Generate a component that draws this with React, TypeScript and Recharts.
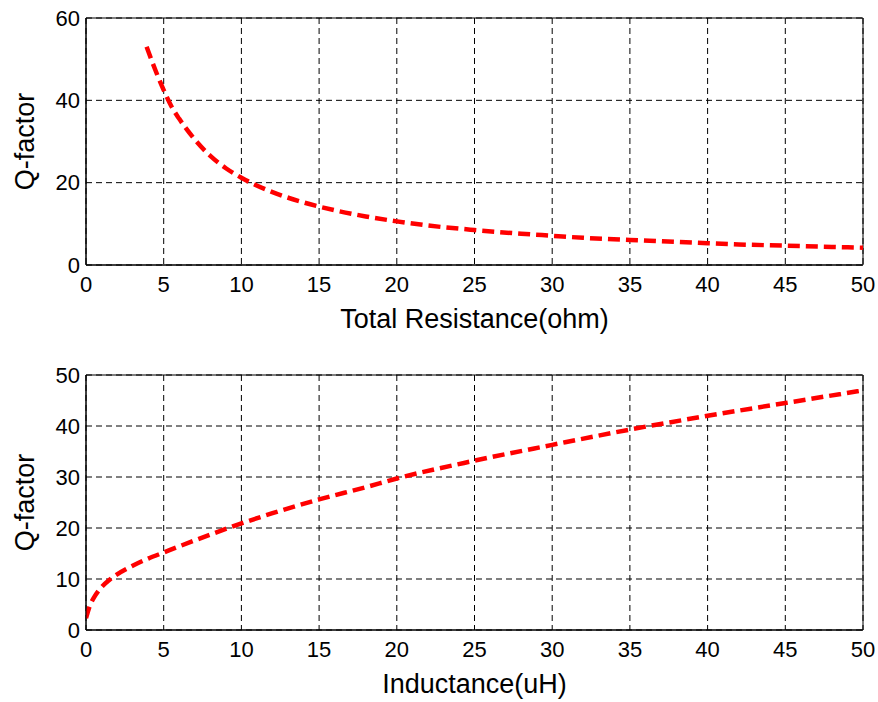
import React from "react";
import {
  LineChart,
  Line,
  XAxis,
  YAxis,
  CartesianGrid,
  ReferenceArea,
} from "recharts";

// top panel: Q-factor vs total resistance
const resistance = [3.9, 4.5, 5, 5.5, 6, 7, 8, 9, 10, 12, 14, 16, 18, 20, 22, 25, 28, 30, 32, 35, 38, 40, 42, 45, 48, 50];
const qVsResistance = [53, 47, 42.5, 38.5, 35.5, 30.5, 26.5, 23.5, 21.2, 17.7, 15.2, 13.3, 11.8, 10.6, 9.6, 8.5, 7.6, 7.1, 6.6, 6.1, 5.6, 5.3, 5.0, 4.7, 4.4, 4.2];

// bottom panel: Q-factor vs inductance
const inductance = [0, 0.25, 0.5, 1, 1.5, 2, 3, 4, 5, 6, 8, 10, 12, 15, 18, 20, 25, 30, 35, 40, 45, 50];
const qVsInductance = [2.3, 4.8, 6.3, 8.4, 9.8, 10.9, 12.6, 14.0, 15.2, 16.4, 18.7, 20.9, 22.9, 25.6, 28.0, 29.7, 33.2, 36.3, 39.3, 42.0, 44.5, 47.0];

const xTicks = [0, 5, 10, 15, 20, 25, 30, 35, 40, 45, 50];
const yTicksTop = [0, 20, 40, 60];
const yTicksBottom = [0, 10, 20, 30, 40, 50];

const FONT = "'Liberation Sans', Arial, Helvetica, sans-serif";
const tickStyle = { fill: "#000", fontSize: 22, fontFamily: FONT };
const titleStyle = { fill: "#000", fontSize: 27, fontFamily: FONT };

function Panel({
  data,
  xTitle,
  yTicks,
  top,
  height,
  marginTop,
  xAxisHeight,
  xTitleOffset,
}: {
  data: { x: number; q: number }[];
  xTitle: string;
  yTicks: number[];
  top: number;
  height: number;
  marginTop: number;
  xAxisHeight: number;
  xTitleOffset: number;
}) {
  const yMax = yTicks[yTicks.length - 1];
  return (
    <div style={{ position: "absolute", left: 0, top }}>
      <LineChart
        width={878}
        height={height}
        data={data}
        margin={{ top: marginTop, right: 15, bottom: 0, left: 0 }}
      >
        <CartesianGrid stroke="#000" strokeDasharray="6 4" strokeWidth={1} />
        <XAxis
          dataKey="x"
          type="number"
          domain={[0, 50]}
          ticks={xTicks}
          allowDataOverflow
          height={xAxisHeight}
          tickSize={0}
          tickMargin={11}
          tick={tickStyle}
          stroke="#000"
          label={{
            value: xTitle,
            position: "insideBottom",
            offset: xTitleOffset,
            style: titleStyle,
          }}
        />
        <YAxis
          type="number"
          domain={[0, yMax]}
          ticks={yTicks}
          allowDataOverflow
          width={86}
          tickSize={0}
          tickMargin={6}
          tick={tickStyle}
          stroke="#000"
          label={{
            value: "Q-factor",
            angle: -90,
            position: "insideLeft",
            offset: 24,
            style: { ...titleStyle, textAnchor: "middle" },
          }}
        />
        <ReferenceArea
          x1={0}
          x2={50}
          y1={0}
          y2={yMax}
          fill="none"
          stroke="#000"
          strokeWidth={1}
        />
        <Line
          dataKey="q"
          type="monotone"
          stroke="#ff0000"
          strokeWidth={4.5}
          strokeDasharray="12 6"
          dot={false}
          isAnimationActive={false}
        />
      </LineChart>
    </div>
  );
}

export default function App() {
  const topData = resistance.map((r, i) => ({ x: r, q: qVsResistance[i] }));
  const bottomData = inductance.map((l, i) => ({ x: l, q: qVsInductance[i] }));
  return (
    <div
      style={{
        position: "absolute",
        left: 0,
        top: 0,
        width: 878,
        height: 702,
        background: "#fff",
        fontFamily: FONT,
      }}
    >
      <Panel
        data={topData}
        xTitle="Total Resistance(ohm)"
        yTicks={yTicksTop}
        top={0}
        height={340}
        marginTop={18}
        xAxisHeight={75}
        xTitleOffset={12}
      />
      <Panel
        data={bottomData}
        xTitle="Inductance(uH)"
        yTicks={yTicksBottom}
        top={340}
        height={362}
        marginTop={35}
        xAxisHeight={72}
        xTitleOffset={9}
      />
    </div>
  );
}
